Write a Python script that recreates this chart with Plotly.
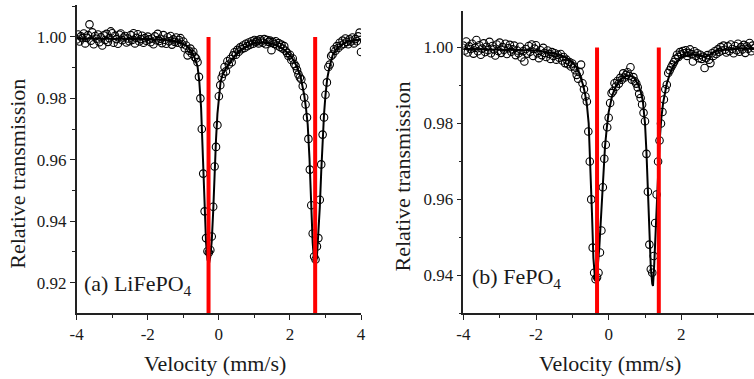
import plotly.graph_objects as go

# ---------------- data ----------------
VELOCITY = [
    -4.00, -3.96, -3.92, -3.88, -3.84, -3.80, -3.76, -3.72, -3.68, -3.64,
    -3.60, -3.56, -3.52, -3.48, -3.44, -3.40, -3.36, -3.32, -3.28, -3.24,
    -3.20, -3.16, -3.12, -3.08, -3.04, -3.00, -2.96, -2.92, -2.88, -2.84,
    -2.80, -2.76, -2.72, -2.68, -2.64, -2.60, -2.56, -2.52, -2.48, -2.44,
    -2.40, -2.36, -2.32, -2.28, -2.24, -2.20, -2.16, -2.12, -2.08, -2.04,
    -2.00, -1.96, -1.92, -1.88, -1.84, -1.80, -1.76, -1.72, -1.68, -1.64,
    -1.60, -1.56, -1.52, -1.48, -1.44, -1.40, -1.36, -1.32, -1.28, -1.24,
    -1.20, -1.16, -1.12, -1.08, -1.04, -1.00, -0.96, -0.92, -0.88, -0.84,
    -0.80, -0.76, -0.72, -0.68, -0.64, -0.60, -0.56, -0.52, -0.48, -0.44,
    -0.40, -0.36, -0.32, -0.28, -0.24, -0.20, -0.16, -0.12, -0.08, -0.04,
    0.00, 0.04, 0.08, 0.12, 0.16, 0.20, 0.24, 0.28, 0.32, 0.36,
    0.40, 0.44, 0.48, 0.52, 0.56, 0.60, 0.64, 0.68, 0.72, 0.76,
    0.80, 0.84, 0.88, 0.92, 0.96, 1.00, 1.04, 1.08, 1.12, 1.16,
    1.20, 1.24, 1.28, 1.32, 1.36, 1.40, 1.44, 1.48, 1.52, 1.56,
    1.60, 1.64, 1.68, 1.72, 1.76, 1.80, 1.84, 1.88, 1.92, 1.96,
    2.00, 2.04, 2.08, 2.12, 2.16, 2.20, 2.24, 2.28, 2.32, 2.36,
    2.40, 2.44, 2.48, 2.52, 2.56, 2.60, 2.64, 2.68, 2.72, 2.76,
    2.80, 2.84, 2.88, 2.92, 2.96, 3.00, 3.04, 3.08, 3.12, 3.16,
    3.20, 3.24, 3.28, 3.32, 3.36, 3.40, 3.44, 3.48, 3.52, 3.56,
    3.60, 3.64, 3.68, 3.72, 3.76, 3.80, 3.84, 3.88, 3.92, 3.96,
    4.00,
]

# (a) LiFePO4 measured relative transmission
TRANS_A = [
    0.9992, 1.0008, 0.9985, 1.0002, 0.9996, 1.0011, 0.9979, 0.9997, 1.0006, 1.0041,
    0.9988, 1.0015, 0.9976, 1.0003, 0.9994, 1.0008, 0.9983, 0.9999, 0.9972, 1.0005,
    0.9990, 1.0010, 0.9984, 0.9996, 1.0018, 1.0012, 0.9981, 1.0004, 0.9993, 0.9978,
    1.0007, 1.0011, 0.9989, 0.9998, 1.0003, 0.9982, 0.9995, 0.9986, 1.0006, 0.9990,
    1.0012, 0.9979, 0.9997, 1.0009, 0.9985, 0.9993, 1.0004, 0.9981, 0.9996, 0.9988,
    1.0001, 0.9992, 0.9983, 0.9995, 0.9976, 1.0002, 0.9989, 1.0010, 0.9987, 0.9994,
    0.9980, 1.0006, 0.9991, 0.9978, 0.9999, 0.9986, 1.0003, 0.9975, 0.9992, 0.9984,
    0.9998, 0.9981, 0.9990, 0.9996, 0.9977, 0.9985, 0.9963, 0.9972, 0.9940, 0.9955,
    0.9962, 0.9945, 0.9952, 0.9935, 0.9930, 0.9918, 0.9870, 0.9800, 0.9700, 0.9555,
    0.9432, 0.9345, 0.9302, 0.9298, 0.9306, 0.9350, 0.9447, 0.9578, 0.9642, 0.9713,
    0.9807, 0.9843, 0.9868, 0.9880, 0.9902, 0.9888, 0.9921, 0.9910, 0.9928, 0.9918,
    0.9940, 0.9950, 0.9942, 0.9958, 0.9952, 0.9966, 0.9960, 0.9972, 0.9964, 0.9978,
    0.9970, 0.9982, 0.9975, 0.9986, 0.9978, 0.9990, 0.9983, 0.9988, 0.9979, 0.9992,
    0.9985, 0.9981, 0.9993, 0.9976, 0.9990, 0.9984, 0.9988, 0.9957, 0.9983, 0.9977,
    0.9986, 0.9972, 0.9980, 0.9967, 0.9975, 0.9962, 0.9970, 0.9955, 0.9948, 0.9938,
    0.9942, 0.9925, 0.9930, 0.9912, 0.9905, 0.9892, 0.9878, 0.9868, 0.9862, 0.9840,
    0.9803, 0.9780, 0.9738, 0.9668, 0.9568, 0.9452, 0.9360, 0.9285, 0.9275, 0.9318,
    0.9345, 0.9470, 0.9585, 0.9682, 0.9738, 0.9812, 0.9852, 0.9902, 0.9910, 0.9938,
    0.9943, 0.9960, 0.9955, 0.9970, 0.9964, 0.9981, 0.9972, 0.9988, 0.9978, 0.9995,
    0.9984, 0.9976, 0.9992, 0.9985, 0.9998, 0.9979, 0.9993, 0.9986, 1.0002, 1.0014,
    0.9951,
]

# (b) FePO4 measured relative transmission
TRANS_B = [
    1.0005, 0.9992, 1.0016, 0.9987, 1.0003, 0.9996, 1.0010, 0.9984, 0.9999, 1.0020,
    0.9990, 1.0006, 0.9981, 0.9997, 1.0011, 0.9988, 1.0002, 0.9993, 1.0015, 0.9985,
    1.0004, 0.9995, 0.9979, 1.0008, 0.9991, 1.0013, 0.9986, 1.0001, 0.9994, 1.0010,
    0.9983, 0.9998, 1.0007, 0.9989, 0.9995, 1.0005, 0.9980, 0.9992, 0.9985, 1.0002,
    0.9974, 0.9990, 0.9963, 0.9996, 0.9984, 1.0004, 0.9989, 1.0008, 0.9978, 0.9997,
    1.0006, 0.9985, 0.9972, 0.9993, 0.9980, 0.9999, 0.9986, 0.9975, 0.9992, 0.9983,
    0.9970, 0.9988, 0.9978, 0.9985, 0.9968, 0.9981, 0.9973, 0.9983, 0.9966, 0.9975,
    0.9959, 0.9968, 0.9956, 0.9962, 0.9950, 0.9958, 0.9950, 0.9940, 0.9928, 0.9918,
    0.9935, 0.9955, 0.9906, 0.9890, 0.9871, 0.9858, 0.9779, 0.9700, 0.9600, 0.9473,
    0.9407, 0.9390, 0.9395, 0.9407, 0.9460, 0.9518, 0.9632, 0.9707, 0.9744, 0.9790,
    0.9815, 0.9854, 0.9880, 0.9885, 0.9906, 0.9897, 0.9912, 0.9905, 0.9920, 0.9915,
    0.9932, 0.9921, 0.9928, 0.9935, 0.9925, 0.9948, 0.9915, 0.9922, 0.9911, 0.9905,
    0.9895, 0.9878, 0.9867, 0.9850, 0.9828, 0.9806, 0.9720, 0.9620, 0.9481, 0.9416,
    0.9407, 0.9451, 0.9538, 0.9613, 0.9700, 0.9755, 0.9800, 0.9830, 0.9863, 0.9890,
    0.9902, 0.9933, 0.9940, 0.9948, 0.9955, 0.9962, 0.9970, 0.9981, 0.9975, 0.9988,
    0.9982, 0.9991, 0.9985, 0.9993, 0.9978, 0.9986, 0.9995, 0.9983, 0.9963, 0.9990,
    0.9978, 0.9985, 0.9972, 0.9981, 0.9970, 0.9976, 0.9946, 0.9972, 0.9980, 0.9968,
    0.9959, 0.9985, 0.9978, 0.9990, 0.9983, 0.9995, 0.9988, 1.0001, 0.9992, 1.0005,
    0.9994, 0.9987, 1.0003, 0.9991, 1.0008, 0.9996, 0.9985, 1.0004, 0.9993, 1.0010,
    0.9989, 1.0001, 0.9995, 1.0007, 0.9986, 1.0003, 0.9997, 1.0012, 0.9990, 1.0005,
    0.9998,
]

# fitted curves
FIT_A_V = [-4.0, -3.0, -2.0, -1.5, -1.2, -1.0, -0.9, -0.8, -0.7, -0.6,
           -0.55, -0.5, -0.45, -0.4, -0.36, -0.32, -0.28, -0.24, -0.2, -0.16,
           -0.12, -0.08, -0.04, 0.0, 0.05, 0.1, 0.2, 0.3, 0.4, 0.5,
           0.6, 0.8, 1.0, 1.2, 1.4, 1.6, 1.8, 1.9, 2.0, 2.1,
           2.2, 2.3, 2.4, 2.45, 2.5, 2.55, 2.6, 2.64, 2.68, 2.72,
           2.76, 2.8, 2.84, 2.88, 2.92, 2.96, 3.0, 3.05, 3.1, 3.2,
           3.3, 3.5, 3.7, 4.0]
FIT_A_T = [0.9995, 0.9995, 0.9993, 0.9990, 0.9985, 0.9978, 0.9970, 0.9958, 0.9938, 0.9905,
           0.9855, 0.9770, 0.9605, 0.9425, 0.9330, 0.9275, 0.9260, 0.9285, 0.9335, 0.9430,
           0.9560, 0.9665, 0.9750, 0.9810, 0.9855, 0.9875, 0.9898, 0.9915, 0.9932, 0.9946,
           0.9957, 0.9972, 0.9980, 0.9982, 0.9980, 0.9975, 0.9962, 0.9952, 0.9940, 0.9925,
           0.9902, 0.9870, 0.9812, 0.9770, 0.9715, 0.9605, 0.9440, 0.9330, 0.9270, 0.9255,
           0.9285, 0.9350, 0.9445, 0.9560, 0.9665, 0.9750, 0.9810, 0.9865, 0.9895, 0.9940,
           0.9960, 0.9978, 0.9987, 0.9992]

FIT_B_V = [-4.0, -3.0, -2.0, -1.5, -1.2, -1.0, -0.9, -0.8, -0.7, -0.65,
           -0.6, -0.55, -0.5, -0.46, -0.42, -0.39, -0.37, -0.34, -0.30, -0.26,
           -0.22, -0.18, -0.14, -0.10, -0.05, 0.0, 0.1, 0.2, 0.3, 0.45,
           0.58, 0.7, 0.8, 0.88, 0.94, 1.0, 1.04, 1.08, 1.12, 1.16,
           1.20, 1.22, 1.25, 1.28, 1.32, 1.36, 1.40, 1.45, 1.5, 1.6,
           1.7, 1.8, 2.0, 2.3, 2.5, 2.65, 2.8, 3.0, 3.5, 4.0]
FIT_B_T = [0.9997, 0.9995, 0.9992, 0.9985, 0.9975, 0.9962, 0.9950, 0.9930, 0.9900, 0.9878,
           0.9850, 0.9800, 0.9690, 0.9565, 0.9445, 0.9395, 0.9385, 0.9400, 0.9425, 0.9470,
           0.9540, 0.9625, 0.9690, 0.9740, 0.9790, 0.9830, 0.9875, 0.9898, 0.9913, 0.9924,
           0.9927, 0.9920, 0.9905, 0.9885, 0.9860, 0.9800, 0.9725, 0.9630, 0.9510, 0.9420,
           0.9378, 0.9372, 0.9420, 0.9495, 0.9590, 0.9680, 0.9750, 0.9815, 0.9855, 0.9905,
           0.9935, 0.9955, 0.9975, 0.9982, 0.9979, 0.9975, 0.9982, 0.9992, 0.9997, 0.9998]

# red reference lines (velocity positions) and their top level
RED_A = [-0.29, 2.71]
RED_B = [-0.32, 1.38]
RED_TOP = 1.00

# axis settings / tick labels
X_RANGE = [-4, 4]
X_TICKS = [-4, -2, 0, 2, 4]
X_TICKTEXT = ["-4", "-2", "0", "2", "4"]
X_MINOR = [-3, -1, 1, 3]
X_ALL = [-4, -3, -2, -1, 0, 1, 2, 3, 4]

YA_RANGE = [0.9101, 1.0105]
YA_TICKS = [0.92, 0.94, 0.96, 0.98, 1.00]
YA_TICKTEXT = ["0.92", "0.94", "0.96", "0.98", "1.00"]
YA_MINOR = [0.91, 0.93, 0.95, 0.97, 0.99, 1.01]

YB_RANGE = [0.9300, 1.0097]
YB_TICKS = [0.94, 0.96, 0.98, 1.00]
YB_TICKTEXT = ["0.94", "0.96", "0.98", "1.00"]
YB_MINOR = [0.93, 0.95, 0.97, 0.99, 1.01]

TITLE_X = "Velocity (mm/s)"
TITLE_Y = "Relative transmission"
LABEL_A = "(a) LiFePO<sub>4</sub>"
LABEL_B = "(b) FePO<sub>4</sub>"

# ---------------- style ----------------
FONT = "Liberation Serif"
INK = "#1a1a1a"
AXC = "#222222"
W, H = 754, 379

fig = go.Figure()


def add_panel(xa, ya, fit_v, fit_t, trans, reds, ymin):
    fig.add_trace(go.Scatter(x=fit_v, y=fit_t, mode="lines", xaxis=xa, yaxis=ya,
                             line=dict(color="black", width=2), showlegend=False,
                             hoverinfo="skip"))
    fig.add_trace(go.Scatter(x=VELOCITY, y=trans, mode="markers", xaxis=xa, yaxis=ya,
                             marker=dict(symbol="circle-open", size=7.5, color="black",
                                         line=dict(width=1.1, color="black")),
                             showlegend=False))
    for v in reds:
        fig.add_trace(go.Scatter(x=[v, v], y=[RED_TOP, ymin], mode="lines",
                                 xaxis=xa, yaxis=ya,
                                 line=dict(color="#ff0000", width=4),
                                 showlegend=False, hoverinfo="skip"))


add_panel("x", "y", FIT_A_V, FIT_A_T, TRANS_A, RED_A, YA_RANGE[0])
add_panel("x2", "y2", FIT_B_V, FIT_B_T, TRANS_B, RED_B, YB_RANGE[0])

tickfont = dict(family=FONT, size=17, color=INK)


def main_x(domain, anchor):
    return dict(domain=domain, anchor=anchor, range=X_RANGE, tickmode="array",
                tickvals=X_TICKS, ticktext=X_TICKTEXT, ticks="outside", ticklen=5,
                tickwidth=1.2, tickcolor=AXC, showline=True, linecolor=AXC,
                linewidth=1.5, showgrid=False, zeroline=False, tickfont=tickfont,
                automargin=False,
                minor=dict(tickmode="array", tickvals=X_MINOR, ticks="outside",
                           ticklen=3, tickwidth=1.2, tickcolor=AXC, showgrid=False))


def main_y(domain, anchor, rng, tv, tt, mv):
    return dict(domain=domain, anchor=anchor, range=rng, tickmode="array",
                tickvals=tv, ticktext=tt, ticks="outside", ticklen=5,
                tickwidth=1.2, tickcolor=AXC, showline=True, linecolor=AXC,
                linewidth=1.5, showgrid=False, zeroline=False, tickfont=tickfont,
                automargin=False,
                minor=dict(tickmode="array", tickvals=mv, ticks="outside",
                           ticklen=3, tickwidth=1.2, tickcolor=AXC, showgrid=False))


def top_x(over, anchor):
    return dict(overlaying=over, anchor=anchor, side="top", range=X_RANGE,
                tickmode="array", tickvals=X_ALL, ticks="inside", ticklen=4,
                tickwidth=1.2, tickcolor=AXC, showticklabels=False, showline=True,
                linecolor=AXC, linewidth=1.5, showgrid=False, zeroline=False)


def right_y(over, anchor, rng, tv, mv):
    return dict(overlaying=over, anchor=anchor, side="right", range=rng,
                tickmode="array", tickvals=tv, ticks="inside", ticklen=5,
                tickwidth=1.2, tickcolor=AXC, showticklabels=False, showline=True,
                linecolor=AXC, linewidth=1.5, showgrid=False, zeroline=False,
                minor=dict(tickmode="array", tickvals=mv, ticks="inside",
                           ticklen=3, tickwidth=1.2, tickcolor=AXC, showgrid=False))


DOM_AX = [0.1017, 0.4788]
DOM_AY = [0.1741, 0.9876]
DOM_BX = [0.6145, 1.0]
DOM_BY = [0.1733, 0.9718]

fig.update_layout(
    width=W, height=H,
    margin=dict(l=0, r=0, t=0, b=0, autoexpand=False),
    paper_bgcolor="white", plot_bgcolor="rgba(0,0,0,0)",
    showlegend=False,
    xaxis=main_x(DOM_AX, "y"),
    yaxis=main_y(DOM_AY, "x", YA_RANGE, YA_TICKS, YA_TICKTEXT, YA_MINOR),
    xaxis2=main_x(DOM_BX, "y2"),
    yaxis2=main_y(DOM_BY, "x2", YB_RANGE, YB_TICKS, YB_TICKTEXT, YB_MINOR),
    xaxis3=top_x("x", "y"),
    yaxis3=right_y("y", "x", YA_RANGE, YA_TICKS, YA_MINOR),
    xaxis4=top_x("x2", "y2"),
    yaxis4=right_y("y2", "x2", YB_RANGE, YB_TICKS, YB_MINOR),
)

title_font = dict(family=FONT, size=22, color=INK)
annos = [
    dict(text=TITLE_X, x=215 / W, y=1 - 363 / H, xref="paper", yref="paper",
         showarrow=False, font=title_font, xanchor="center", yanchor="middle"),
    dict(text=TITLE_X, x=609.5 / W, y=1 - 363 / H, xref="paper", yref="paper",
         showarrow=False, font=title_font, xanchor="center", yanchor="middle"),
    dict(text=TITLE_Y, x=16.7 / W, y=1 - 174 / H, xref="paper", yref="paper",
         showarrow=False, font=title_font, textangle=-90, xanchor="center",
         yanchor="middle"),
    dict(text=TITLE_Y, x=401.5 / W, y=1 - 176 / H, xref="paper", yref="paper",
         showarrow=False, font=title_font, textangle=-90, xanchor="center",
         yanchor="middle"),
    dict(text=LABEL_A, x=82 / W, y=1 - 285 / H, xref="paper", yref="paper",
         showarrow=False, font=title_font, xanchor="left", yanchor="middle"),
    dict(text=LABEL_B, x=470 / W, y=1 - 278 / H, xref="paper", yref="paper",
         showarrow=False, font=title_font, xanchor="left", yanchor="middle"),
]
fig.update_layout(annotations=annos)

fig.write_html("out.html",
               config={"displayModeBar": False},
               post_script="document.body.style.margin='0';"
                           "document.body.style.overflow='hidden';")
